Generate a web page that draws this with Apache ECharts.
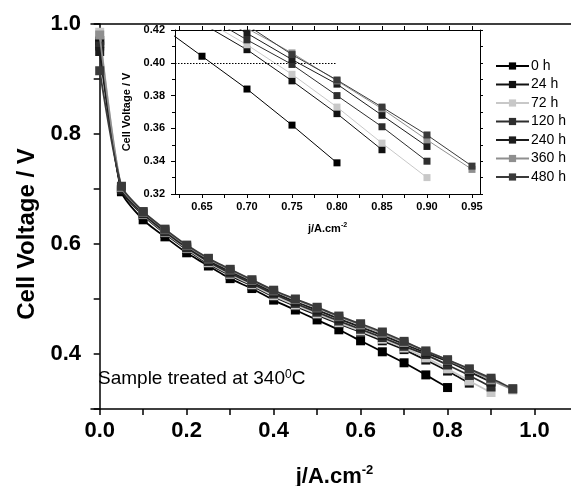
<!DOCTYPE html>
<html>
<head>
<meta charset="utf-8">
<script src="https://cdn.jsdelivr.net/npm/echarts@6/dist/echarts.min.js"></script>
<style>
html,body{margin:0;padding:0;background:#fff;}
#c{width:571px;height:486px;}
</style>
</head>
<body>
<div id="c"></div>
<script>
// ---- data ----
const currentDensity = [0, 0.05, 0.10, 0.15, 0.20, 0.25, 0.30, 0.35, 0.40, 0.45, 0.50, 0.55, 0.60, 0.65, 0.70, 0.75, 0.80, 0.85, 0.90, 0.95];
const seriesNames = ['0 h', '24 h', '72 h', '120 h', '240 h', '360 h', '480 h'];
const v0h   = [0.965, 0.695, 0.644, 0.613, 0.584, 0.560, 0.537, 0.519, 0.498, 0.480, 0.462, 0.444, 0.424, 0.404, 0.384, 0.362, 0.339];
const v24h  = [0.970, 0.698, 0.652, 0.619, 0.590, 0.564, 0.543, 0.524, 0.504, 0.487, 0.471, 0.455, 0.440, 0.424, 0.408, 0.389, 0.369, 0.347];
const v72h  = [0.985, 0.702, 0.654, 0.621, 0.592, 0.566, 0.545, 0.526, 0.506, 0.489, 0.473, 0.457, 0.442, 0.427, 0.411, 0.393, 0.373, 0.351, 0.330];
const v120h = [0.960, 0.700, 0.655, 0.622, 0.593, 0.568, 0.547, 0.528, 0.509, 0.492, 0.476, 0.460, 0.445, 0.430, 0.414, 0.399, 0.380, 0.361, 0.340];
const v240h = [0.950, 0.700, 0.656, 0.624, 0.595, 0.570, 0.550, 0.531, 0.512, 0.495, 0.480, 0.464, 0.449, 0.434, 0.418, 0.402, 0.387, 0.368, 0.349];
const v360h = [0.980, 0.703, 0.658, 0.626, 0.597, 0.573, 0.553, 0.534, 0.515, 0.499, 0.484, 0.468, 0.453, 0.438, 0.421, 0.406, 0.389, 0.372, 0.353, 0.335];
const v480h = [0.915, 0.705, 0.659, 0.627, 0.598, 0.574, 0.554, 0.535, 0.516, 0.500, 0.485, 0.469, 0.455, 0.440, 0.423, 0.405, 0.3895, 0.373, 0.356, 0.337];
const seriesValues = [v0h, v24h, v72h, v120h, v240h, v360h, v480h];

const mainXTicks = [0, 0.1, 0.2, 0.3, 0.4, 0.5, 0.6, 0.7, 0.8, 0.9, 1.0];
const mainXLabels = [0, 0.2, 0.4, 0.6, 0.8, 1.0];
const mainYTicks = [0.3, 0.4, 0.5, 0.6, 0.7, 0.8, 0.9, 1.0];
const mainYLabels = [0.4, 0.6, 0.8, 1.0];
const insetXTicks = [0.625, 0.65, 0.675, 0.70, 0.725, 0.75, 0.775, 0.80, 0.825, 0.85, 0.875, 0.90, 0.925, 0.95];
const insetXLabels = [0.65, 0.70, 0.75, 0.80, 0.85, 0.90, 0.95];
const refVoltage = 0.40;
const refLineStart = 0.62;
const refLineEnd = 0.80;

// ---- styles ----
const colors = ['#000000', '#111111', '#c8c8c8', '#2e2e2e', '#1c1c1c', '#8f8f8f', '#3a3a3a'];
const FONT = '"Liberation Sans", Arial, sans-serif';

function pairs(vals) { return vals.map((v, i) => [currentDensity[i], v]); }

const series = [];
seriesNames.forEach((name, k) => {
  series.push({
    name: name, type: 'line', xAxisIndex: 0, yAxisIndex: 0,
    data: pairs(seriesValues[k]), smooth: 0.2,
    symbol: 'rect', symbolSize: 9,
    lineStyle: {color: colors[k], width: 1.8},
    itemStyle: {color: colors[k]},
    z: 2 + k
  });
});
seriesNames.forEach((name, k) => {
  const s = {
    name: name, type: 'line', xAxisIndex: 2, yAxisIndex: 1,
    data: pairs(seriesValues[k]), smooth: false, clip: true,
    symbol: 'rect', symbolSize: 7,
    lineStyle: {color: colors[k], width: 1},
    itemStyle: {color: colors[k]},
    z: 2 + k
  };
  if (k === 0) {
    s.markLine = {
      silent: true, symbol: ['none', 'none'], label: {show: false},
      lineStyle: {type: [1.5, 1.5], color: '#000', width: 1},
      data: [[{coord: [refLineStart, refVoltage]}, {coord: [refLineEnd, refVoltage]}]]
    };
  }
  series.push(s);
});

const axisLineBlack = {show: true, lineStyle: {color: '#000', width: 1.5}};
const thinLine = {show: true, lineStyle: {color: '#000', width: 1}};

const option = {
  animation: false,
  backgroundColor: '#fff',
  textStyle: {fontFamily: FONT},
  grid: [
    {left: 91, top: 24, width: 487, height: 385, containLabel: false, outerBoundsMode: 'none'},
    {left: 175, top: 30, width: 305, height: 164, containLabel: false, outerBoundsMode: 'none'}
  ],
  legend: {
    orient: 'vertical', left: 495, top: 59, padding: 0,
    itemWidth: 33, itemHeight: 9, itemGap: 4.5,
    textStyle: {fontFamily: FONT, fontSize: 14, color: '#000', padding: [0, 0, 0, -3]},
    data: seriesNames
  },
  xAxis: [
    {
      type: 'value', gridIndex: 0, position: 'bottom', min: -0.02, max: 1.1,
      axisLine: axisLineBlack,
      axisTick: {show: true, inside: false, length: 6, customValues: mainXTicks, lineStyle: {color: '#000', width: 1.5}},
      axisLabel: {customValues: mainXLabels, formatter: v => v.toFixed(1), fontFamily: FONT, fontWeight: 'bold', fontSize: 22, color: '#000', margin: 11},
      splitLine: {show: false},
      name: 'j/A.cm{s|-2}', nameLocation: 'middle', nameGap: 55,
      nameTextStyle: {fontFamily: FONT, fontWeight: 'bold', fontSize: 22, color: '#000',
        rich: {s: {fontFamily: FONT, fontWeight: 'bold', fontSize: 13, color: '#000', verticalAlign: 'top', padding: [0, 0, 12, 0]}}}
    },
    {
      type: 'value', gridIndex: 0, position: 'top', min: -0.02, max: 1.1,
      axisLine: axisLineBlack, axisTick: {show: false}, axisLabel: {show: false}, splitLine: {show: false}
    },
    {
      type: 'value', gridIndex: 1, position: 'bottom', min: 0.62, max: 0.9589,
      axisLine: thinLine,
      axisTick: {show: true, length: 4, customValues: insetXTicks, lineStyle: {color: '#000', width: 1}},
      axisLabel: {customValues: insetXLabels, formatter: v => v.toFixed(2), fontFamily: FONT, fontWeight: 'bold', fontSize: 11, color: '#000', margin: 7},
      splitLine: {show: false},
      name: 'j/A.cm{s|-2}', nameLocation: 'middle', nameGap: 28,
      nameTextStyle: {fontFamily: FONT, fontWeight: 'bold', fontSize: 11, color: '#000',
        rich: {s: {fontFamily: FONT, fontWeight: 'bold', fontSize: 7, color: '#000', verticalAlign: 'top', padding: [0, 0, 6, 0]}}}
    },
    {
      type: 'value', gridIndex: 1, position: 'top', min: 0.62, max: 0.9589,
      axisLine: thinLine,
      axisTick: {show: true, inside: false, length: 4, customValues: insetXTicks, lineStyle: {color: '#000', width: 1}},
      axisLabel: {show: false}, splitLine: {show: false}
    }
  ],
  yAxis: [
    {
      type: 'value', gridIndex: 0, min: 0.3, max: 1.0,
      axisLine: axisLineBlack,
      axisTick: {show: true, length: 6, customValues: mainYTicks, lineStyle: {color: '#000', width: 1.5}},
      axisLabel: {customValues: mainYLabels, formatter: v => v.toFixed(1), fontFamily: FONT, fontWeight: 'bold', fontSize: 22, color: '#000', margin: 10},
      splitLine: {show: false}
    },
    {
      type: 'value', gridIndex: 1, min: 0.32, max: 0.42, interval: 0.02,
      axisLine: thinLine,
      axisTick: {show: true, length: 4, lineStyle: {color: '#000', width: 1}},
      minorTick: {show: true, splitNumber: 2, length: 3, lineStyle: {color: '#000', width: 1}},
      axisLabel: {formatter: v => v.toFixed(2), fontFamily: FONT, fontWeight: 'bold', fontSize: 11, color: '#000', margin: 10},
      splitLine: {show: false}, minorSplitLine: {show: false},
      name: 'Cell Voltage / V', nameLocation: 'middle', nameGap: 34, nameRotate: 90,
      nameTextStyle: {fontFamily: FONT, fontWeight: 'bold', fontSize: 11, color: '#000'}
    },
    {
      type: 'value', gridIndex: 1, position: 'right', min: 0.32, max: 0.42, interval: 0.02,
      axisLine: thinLine,
      axisTick: {show: true, length: 3, lineStyle: {color: '#000', width: 1}},
      minorTick: {show: true, splitNumber: 2, length: 3, lineStyle: {color: '#000', width: 1}},
      axisLabel: {show: false}, splitLine: {show: false}, minorSplitLine: {show: false}
    }
  ],
  graphic: [
    {
      type: 'text', x: 27, y: 234, rotation: Math.PI / 2, z: 100,
      style: {
        text: 'Cell Voltage / V', fill: '#000',
        font: 'bold 24px "Liberation Sans", Arial, sans-serif',
        align: 'center', verticalAlign: 'middle'
      }
    },
    {
      type: 'text', left: 98, top: 369, z: 100,
      style: {
        text: 'Sample treated at 340{s|0}C',
        fill: '#000', font: '19px "Liberation Sans", Arial, sans-serif',
        rich: {s: {fontSize: 12, fontFamily: FONT, fill: '#000', verticalAlign: 'top', padding: [0, 0, 8, 0]}}
      }
    }
  ],
  series: series
};

const chart = echarts.init(document.getElementById('c'), null, {renderer: 'canvas'});
chart.setOption(option);
</script>
</body>
</html>
